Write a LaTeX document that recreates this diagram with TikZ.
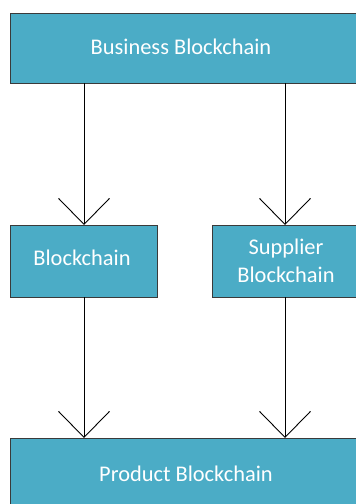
\documentclass[tikz,border=0pt]{standalone}
\usepackage{fontspec}
\setmainfont{Carlito}
\usetikzlibrary{arrows.meta}
\definecolor{boxfill}{HTML}{4BACC6}
\definecolor{boxline}{HTML}{3A3A3A}
\begin{document}
\begin{tikzpicture}[x=1pt,y=-1pt,
  bbox/.style={draw=boxline,line width=0.9pt,fill=boxfill,inner sep=0pt,anchor=north west},
  lbl/.style={text=white,font=\fontsize{22.4}{28}\selectfont,align=center,inner sep=0pt},
  conn/.style={line width=0.9pt,-{Straight Barb[length=26pt,width=51pt,line width=0.9pt]}}]
\useasboundingbox (0,0) rectangle (356,504);
\begin{scope}
\clip (0,0) rectangle (356,504);
\node[bbox,minimum width=352pt,minimum height=70pt] (biz) at (10,13) {};
\node[lbl] (bizt) at (181,47) {Business Blockchain};
\node[bbox,minimum width=147pt,minimum height=72pt] (bc) at (10,225) {};
\node[lbl] (bct) at (82,258) {Blockchain};
\node[bbox,minimum width=150pt,minimum height=72pt] (sup) at (212,225) {};
\node[lbl] (supt) at (286,261) {Supplier\\Blockchain};
\node[bbox,minimum width=352pt,minimum height=80pt] (prod) at (10,438) {};
\node[lbl] (prodt) at (186,474) {Product Blockchain};
\end{scope}
\coordinate (a1) at (84,83);
\draw[conn] (a1) -- (bc.north west -| a1);
\coordinate (a2) at (285,83);
\draw[conn] (a2) -- (sup.north west -| a2);
\coordinate (b1) at (84,297);
\draw[conn] (b1) -- (prod.north west -| b1);
\coordinate (b2) at (285,297);
\draw[conn] (b2) -- (prod.north west -| b2);
\end{tikzpicture}
\end{document}
